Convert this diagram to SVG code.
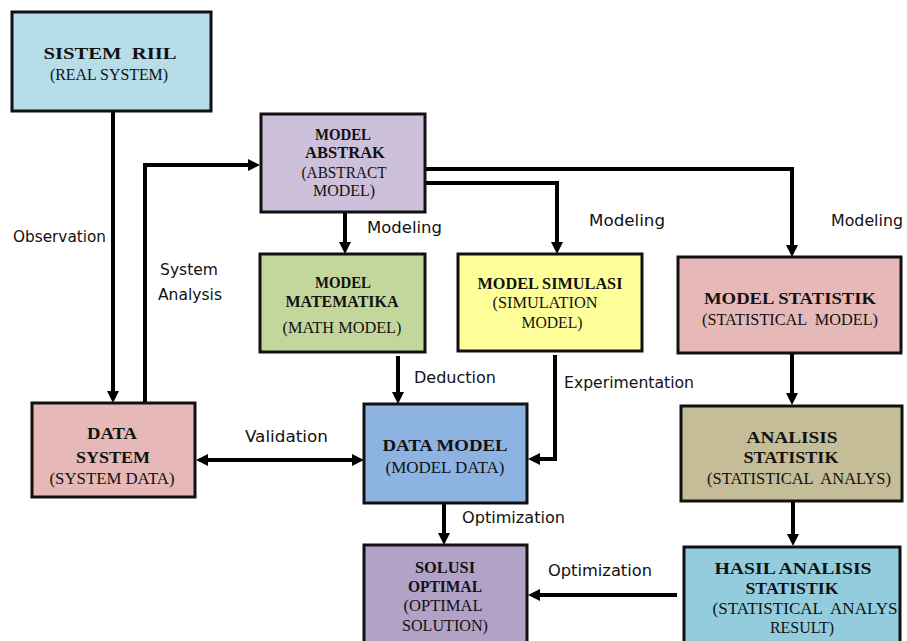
<svg xmlns="http://www.w3.org/2000/svg" width="907" height="641" viewBox="0 0 907 641">
  <defs>
    <marker id="arrow" viewBox="0 0 12 12" markerWidth="12" markerHeight="12" refX="0" refY="6" orient="auto-start-reverse" markerUnits="userSpaceOnUse">
      <path d="M0,0 L12,6 L0,12 z" fill="#000"/>
    </marker>
  </defs>
  <style>
    .box { stroke: #111; stroke-width: 3; }
    .t { font-family: "Liberation Serif", "Times New Roman", serif; text-anchor: middle; fill: #111; font-size: 16px; }
    .b { font-weight: bold; }
    .lbl { font-family: "DejaVu Sans Condensed", "DejaVu Sans", sans-serif; font-size: 15px; fill: #111; }
    .conn path { fill: none; stroke: #000; stroke-width: 4; }
  </style>
  <rect width="907" height="641" fill="#fff"/>

  <g class="conn">
    <path d="M113,111 V391" marker-end="url(#arrow)"/>
    <path d="M145,403 V165 H248" marker-end="url(#arrow)"/>
    <path d="M345,212 V242" marker-end="url(#arrow)"/>
    <path d="M425,183 H557 V242" marker-end="url(#arrow)"/>
    <path d="M425,169 H792 V245" marker-end="url(#arrow)"/>
    <path d="M398,356 V392" marker-end="url(#arrow)"/>
    <path d="M555,355 V459 H540" marker-end="url(#arrow)"/>
    <path d="M208,460 H352" marker-start="url(#arrow)" marker-end="url(#arrow)"/>
    <path d="M444,503 V533" marker-end="url(#arrow)"/>
    <path d="M792,353 V393" marker-end="url(#arrow)"/>
    <path d="M793,501 V534" marker-end="url(#arrow)"/>
    <path d="M677,595 H540" marker-end="url(#arrow)"/>
  </g>

  <g id="labels">
    <text class="lbl" x="13" y="242" textLength="93" lengthAdjust="spacingAndGlyphs">Observation</text>
    <text class="lbl" x="160" y="275" textLength="58" lengthAdjust="spacingAndGlyphs">System</text>
    <text class="lbl" x="158" y="300" textLength="64" lengthAdjust="spacingAndGlyphs">Analysis</text>
    <text class="lbl" x="367" y="233" textLength="75" lengthAdjust="spacingAndGlyphs">Modeling</text>
    <text class="lbl" x="589" y="226" textLength="76" lengthAdjust="spacingAndGlyphs">Modeling</text>
    <text class="lbl" x="831" y="226" textLength="72" lengthAdjust="spacingAndGlyphs">Modeling</text>
    <text class="lbl" x="414" y="383" textLength="82" lengthAdjust="spacingAndGlyphs">Deduction</text>
    <text class="lbl" x="564" y="388" textLength="130" lengthAdjust="spacingAndGlyphs">Experimentation</text>
    <text class="lbl" x="245" y="442" textLength="83" lengthAdjust="spacingAndGlyphs">Validation</text>
    <text class="lbl" x="462" y="523" textLength="103" lengthAdjust="spacingAndGlyphs">Optimization</text>
    <text class="lbl" x="548" y="576" textLength="104" lengthAdjust="spacingAndGlyphs">Optimization</text>
  </g>

  <g id="sistem-riil">
    <rect class="box" x="12" y="12" width="199" height="99" fill="#b7dde8"/>
    <text class="t b" x="110" y="59" font-size="22" textLength="133" lengthAdjust="spacingAndGlyphs" xml:space="preserve">SISTEM  RIIL</text>
    <text class="t" x="109" y="80" font-size="15" textLength="118" lengthAdjust="spacingAndGlyphs">(REAL SYSTEM)</text>
  </g>

  <g id="model-abstrak">
    <rect class="box" x="261" y="114" width="164" height="98" fill="#ccc0da"/>
    <text class="t b" x="343" y="140" font-size="15" textLength="56" lengthAdjust="spacingAndGlyphs">MODEL</text>
    <text class="t b" x="345" y="158" font-size="15" textLength="80" lengthAdjust="spacingAndGlyphs">ABSTRAK</text>
    <text class="t" x="344" y="178" font-size="16" textLength="85" lengthAdjust="spacingAndGlyphs">(ABSTRACT</text>
    <text class="t" x="344" y="196" font-size="16" textLength="62" lengthAdjust="spacingAndGlyphs">MODEL)</text>
  </g>

  <g id="model-matematika">
    <rect class="box" x="260" y="254" width="165" height="98" fill="#c3d69b"/>
    <text class="t b" x="343" y="288" font-size="15" textLength="56" lengthAdjust="spacingAndGlyphs">MODEL</text>
    <text class="t b" x="342" y="307" font-size="15" textLength="113" lengthAdjust="spacingAndGlyphs">MATEMATIKA</text>
    <text class="t" x="342" y="333" font-size="17" textLength="119" lengthAdjust="spacingAndGlyphs">(MATH MODEL)</text>
  </g>

  <g id="model-simulasi">
    <rect class="box" x="458" y="254" width="184" height="97" fill="#ffff99"/>
    <text class="t b" x="550" y="289" font-size="16" textLength="145" lengthAdjust="spacingAndGlyphs">MODEL SIMULASI</text>
    <text class="t" x="545" y="308" font-size="16" textLength="105" lengthAdjust="spacingAndGlyphs">(SIMULATION</text>
    <text class="t" x="552" y="328" font-size="16" textLength="61" lengthAdjust="spacingAndGlyphs">MODEL)</text>
  </g>

  <g id="model-statistik">
    <rect class="box" x="678" y="257" width="223" height="96" fill="#e6b9b8"/>
    <text class="t b" x="790" y="304" font-size="19" textLength="172" lengthAdjust="spacingAndGlyphs">MODEL STATISTIK</text>
    <text class="t" x="790" y="325" font-size="17" textLength="176" lengthAdjust="spacingAndGlyphs" xml:space="preserve">(STATISTICAL  MODEL)</text>
  </g>

  <g id="data-system">
    <rect class="box" x="32" y="403" width="163" height="94" fill="#e6b9b8"/>
    <text class="t b" x="112" y="439" font-size="19" textLength="50" lengthAdjust="spacingAndGlyphs">DATA</text>
    <text class="t b" x="113" y="463" font-size="19" textLength="74" lengthAdjust="spacingAndGlyphs">SYSTEM</text>
    <text class="t" x="112" y="484" font-size="17" textLength="125" lengthAdjust="spacingAndGlyphs">(SYSTEM DATA)</text>
  </g>

  <g id="data-model">
    <rect class="box" x="364" y="404" width="163" height="99" fill="#8db3e2"/>
    <text class="t b" x="445" y="451" font-size="20" textLength="125" lengthAdjust="spacingAndGlyphs">DATA MODEL</text>
    <text class="t" x="445" y="473" font-size="17" textLength="119" lengthAdjust="spacingAndGlyphs">(MODEL DATA)</text>
  </g>

  <g id="solusi-optimal">
    <rect class="box" x="364" y="545" width="163" height="110" fill="#b3a2c7"/>
    <text class="t b" x="445" y="573" font-size="16" textLength="60" lengthAdjust="spacingAndGlyphs">SOLUSI</text>
    <text class="t b" x="445" y="592" font-size="16" textLength="74" lengthAdjust="spacingAndGlyphs">OPTIMAL</text>
    <text class="t" x="443" y="611" font-size="16" textLength="79" lengthAdjust="spacingAndGlyphs">(OPTIMAL</text>
    <text class="t" x="445" y="631" font-size="16" textLength="86" lengthAdjust="spacingAndGlyphs">SOLUTION)</text>
  </g>

  <g id="analisis-statistik">
    <rect class="box" x="681" y="406" width="221" height="95" fill="#c4bd97"/>
    <text class="t b" x="792" y="443" font-size="19" textLength="91" lengthAdjust="spacingAndGlyphs">ANALISIS</text>
    <text class="t b" x="791" y="463" font-size="19" textLength="95" lengthAdjust="spacingAndGlyphs">STATISTIK</text>
    <text class="t" x="799" y="484" font-size="17" textLength="184" lengthAdjust="spacingAndGlyphs" xml:space="preserve">(STATISTICAL  ANALYS)</text>
  </g>

  <g id="hasil-analisis">
    <rect class="box" x="684" y="547" width="216" height="110" fill="#93cddd"/>
    <text class="t b" x="793" y="574" font-size="19" textLength="157" lengthAdjust="spacingAndGlyphs">HASIL ANALISIS</text>
    <text class="t b" x="792" y="594" font-size="19" textLength="93" lengthAdjust="spacingAndGlyphs">STATISTIK</text>
    <text class="t" x="805" y="614" font-size="17" textLength="185" lengthAdjust="spacingAndGlyphs" xml:space="preserve">(STATISTICAL  ANALYS</text>
    <text class="t" x="802" y="633" font-size="17" textLength="64" lengthAdjust="spacingAndGlyphs">RESULT)</text>
  </g>
</svg>
